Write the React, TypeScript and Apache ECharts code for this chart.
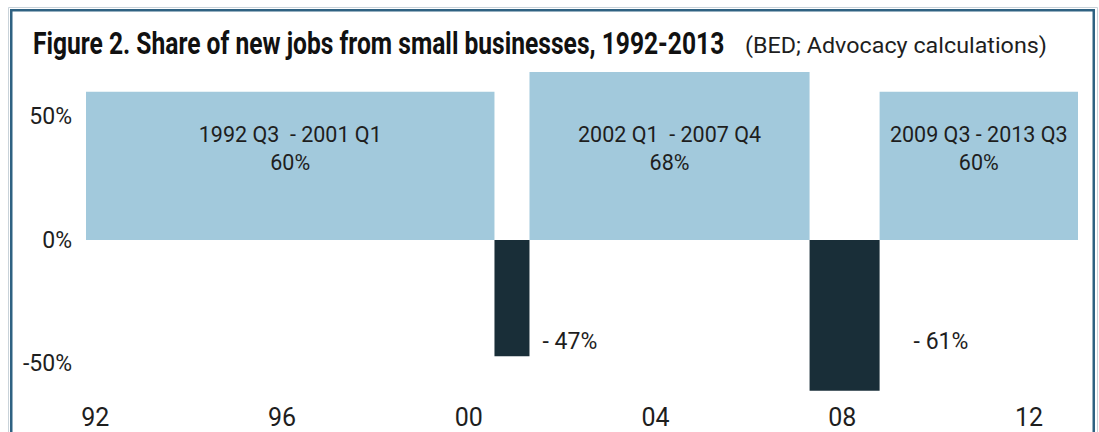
import React, { useEffect, useRef } from "react";
import * as echarts from "echarts";

// ---- data ----
const periodStartQ = ["1992 Q3", "2001 Q2", "2002 Q1", "2008 Q1", "2009 Q3"];
const periodEndQ = ["2001 Q1", "2001 Q4", "2007 Q4", "2009 Q2", "2013 Q3"];
const shareValues = [60, -47, 68, -61, 60];
const periodLabels = ["1992 Q3  - 2001 Q1", "", "2002 Q1  - 2007 Q4", "", "2009 Q3 - 2013 Q3"];
const xTickYears = [1992, 1996, 2000, 2004, 2008, 2012];
const yTickValues = [-50, 0, 50];

const titleText = "Figure 2. Share of new jobs from small businesses, 1992-2013";
const sourceText = "(BED; Advocacy calculations)";

// ---- style ----
const LIGHT = "#a2c9dc";
const DARK = "#192e38";
const TEXT = "#1e1e1e";
const FONT = "Roboto";
const negLabelGap = [0, 13, 0, 34, 0];
const posLabelLevel = 37;
const negLabelLevel = -41;

const qStart = (s: string) => {
  const [y, q] = s.split(" Q");
  return Number(y) + (Number(q) - 1) / 4;
};
const qEnd = (s: string) => {
  const [y, q] = s.split(" Q");
  return Number(y) + Number(q) / 4;
};

function measure(text: string, font: string) {
  const c = document.createElement("canvas").getContext("2d");
  if (!c) return 0;
  c.font = font;
  return c.measureText(text).width;
}

export default function App() {
  const ref = useRef<HTMLDivElement>(null);
  useEffect(() => {
    if (!ref.current) return;
    const chart = echarts.init(ref.current, null, { renderer: "svg" });
    const data = shareValues.map((v, i) => [qStart(periodStartQ[i]), qEnd(periodEndQ[i]), v, i]);
    const titleFont = `bold 31px ${FONT}`;
    const tw = measure(titleText, titleFont) || 950;
    const titleScale = 692 / tw;
    const subFont = `22px ${FONT}`;
    const sw = measure(sourceText, subFont) || 290;
    const subScale = 302 / sw;

    chart.setOption({
      animation: false,
      grid: { left: 86, right: 21, top: 54.75, bottom: 31.4 },
      xAxis: {
        type: "value",
        min: qStart(periodStartQ[0]),
        max: qEnd(periodEndQ[periodEndQ.length - 1]),
        axisLine: { show: false },
        axisTick: { show: false },
        splitLine: { show: false },
        axisLabel: {
          customValues: xTickYears.map((y) => y + 0.7),
          formatter: (v: number) => String(Math.floor(v) % 100).padStart(2, "0"),
          fontFamily: FONT,
          fontSize: 25,
          lineHeight: 25,
          color: TEXT,
          margin: 4,
        },
      },
      yAxis: {
        type: "value",
        min: -65,
        max: 75,
        axisLine: { show: false },
        axisTick: { show: false },
        splitLine: { show: false },
        axisLabel: {
          customValues: yTickValues,
          formatter: (v: number) => `${v}%`,
          fontFamily: FONT,
          fontSize: 23,
          color: TEXT,
          margin: 14,
        },
      },
      graphic: [
        {
          type: "rect",
          shape: { x: 8.5, y: 7.5, width: 1089, height: 440 },
          style: { fill: "none", stroke: "#c9d3da", lineWidth: 1 },
          silent: true,
        },
        {
          type: "rect",
          shape: { x: 11.25, y: 10.25, width: 1082.5, height: 440 },
          style: { fill: "none", stroke: "#2f6282", lineWidth: 2.5 },
          silent: true,
        },
        {
          type: "text",
          x: 33,
          y: 43,
          scaleX: titleScale,
          style: {
            text: titleText,
            font: titleFont,
            fill: "#111",
            verticalAlign: "middle",
          },
        },
        {
          type: "text",
          x: 745,
          y: 46,
          scaleX: subScale,
          style: {
            text: sourceText,
            font: subFont,
            fill: TEXT,
            verticalAlign: "middle",
          },
        },
      ],
      series: [
        {
          type: "custom",
          encode: { x: [0, 1], y: 2 },
          data,
          renderItem: (params: any, api: any) => {
            const s = api.value(0);
            const e = api.value(1);
            const v = api.value(2);
            const i = api.value(3);
            const p0 = api.coord([s, v]);
            const p1 = api.coord([e, 0]);
            const x = p0[0];
            const w = p1[0] - p0[0];
            const y = Math.min(p0[1], p1[1]);
            const h = Math.abs(p1[1] - p0[1]);
            const children: any[] = [
              {
                type: "rect",
                shape: { x, y, width: w, height: h },
                style: { fill: v >= 0 ? LIGHT : DARK },
              },
            ];
            if (v >= 0) {
              const ly = api.coord([s, posLabelLevel])[1];
              children.push({
                type: "text",
                x: x + w / 2,
                y: ly,
                style: {
                  text: `${periodLabels[i]}\n${v}%`,
                  font: `21.5px ${FONT}`,
                  fill: TEXT,
                  align: "center",
                  verticalAlign: "middle",
                  lineHeight: 28,
                },
              });
            } else {
              const ly = api.coord([s, negLabelLevel])[1];
              children.push({
                type: "text",
                x: x + w + negLabelGap[i],
                y: ly,
                style: {
                  text: `- ${Math.abs(v)}%`,
                  font: `23px ${FONT}`,
                  fill: TEXT,
                  align: "left",
                  verticalAlign: "middle",
                },
              });
            }
            return { type: "group", children };
          },
        },
      ],
    });
    return () => chart.dispose();
  }, []);
  return (
    <div
      ref={ref}
      style={{ position: "fixed", left: 0, top: 0, width: 1099, height: 432, background: "#fff" }}
    />
  );
}
